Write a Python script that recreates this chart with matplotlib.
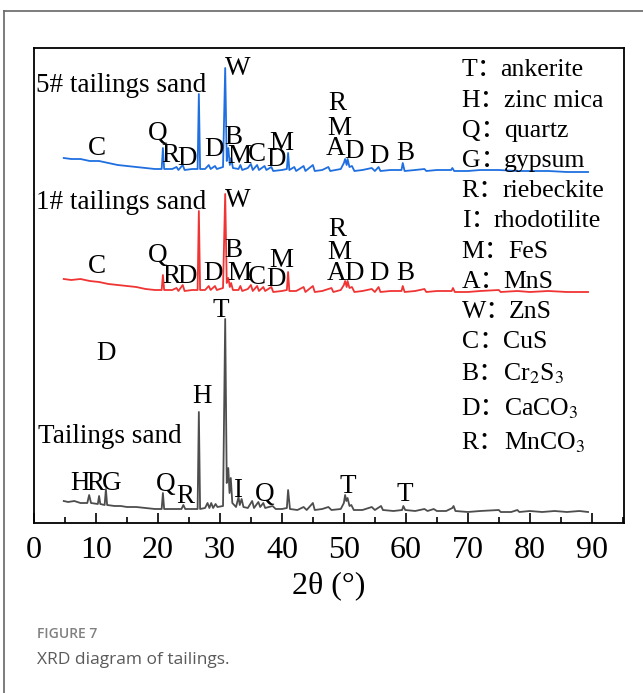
import matplotlib
matplotlib.use("Agg")
import matplotlib.pyplot as plt
from matplotlib.lines import Line2D
from matplotlib.ticker import MultipleLocator

plt.rcParams['mathtext.fontset'] = 'stix'
SERIF = ['Liberation Serif', 'Noto Sans CJK SC']

# XRD patterns, (2theta in degrees, intensity in a.u. incl. stacking offset)
tailings = [(4.8, 22), (5.5, 21), (6.5, 22), (7.5, 20), (8.6, 20), (8.9, 28), (9.2, 20), (10.3, 19),
            (10.5, 27), (10.7, 19), (11.4, 18), (11.6, 34), (11.8, 18), (13, 17), (14, 17), (15, 16),
            (16.5, 16), (18, 15), (19.5, 14), (20.6, 14), (20.8, 30), (21.0, 14), (22.5, 14), (23.8, 14),
            (24.1, 18), (24.4, 14), (25.5, 14), (26.4, 14), (26.6, 111), (26.8, 14), (27.6, 15), (28.0, 20),
            (28.3, 15), (28.6, 20), (28.9, 15), (29.3, 19), (29.6, 16), (30.5, 17), (30.85, 204), (31.1, 40),
            (31.35, 55), (31.55, 30), (31.75, 45), (32.0, 20), (32.6, 16), (33.0, 26), (33.2, 18), (33.5, 24),
            (33.8, 16), (34.5, 15), (35.2, 22), (35.5, 15), (36.2, 21), (36.5, 16), (37.0, 20), (37.3, 15),
            (38.5, 17), (39, 14), (40.0, 14), (40.8, 15), (41.0, 33), (41.3, 14), (42.5, 13), (43.5, 16),
            (44, 13), (45.0, 20), (45.3, 13), (46.5, 14), (47.5, 16), (48, 13), (49.5, 14), (50.0, 20),
            (50.2, 28), (50.4, 22), (50.6, 25), (50.9, 17), (51.2, 18), (51.6, 13), (53, 13), (54.5, 16),
            (55, 13), (56.0, 17), (56.3, 13), (58, 12), (59.4, 13), (59.6, 17), (59.9, 13), (61.5, 12),
            (63.0, 14), (63.5, 12), (64.5, 14), (65, 12), (66.5, 12), (67.5, 15), (67.7, 17), (68, 12),
            (70, 11), (72, 12), (75, 13), (75.3, 11), (77, 11), (78, 13), (78.3, 11), (80, 12), (82, 11),
            (84, 12), (86, 11), (88, 12), (89.4, 11)]

sand1 = [(4.8, 244), (6, 243), (7.5, 244), (9, 242), (10.5, 241), (12, 239), (13.5, 238), (15, 237),
         (16.5, 236), (18, 234), (19.5, 233), (20.6, 233), (20.8, 248), (21.0, 233), (22.3, 233), (23.0, 235),
         (23.3, 232), (24.0, 238), (24.3, 232), (25.5, 233), (26.4, 233), (26.6, 312), (26.8, 233), (27.6, 233),
         (28.2, 237), (28.5, 233), (29.2, 237), (29.5, 233), (30.5, 235), (30.85, 329), (31.1, 240), (31.35, 245),
         (31.6, 236), (31.8, 240), (32.1, 233), (33.0, 233), (33.3, 237), (33.6, 232), (34.5, 234), (35.0, 238),
         (35.3, 232), (36.0, 237), (36.3, 232), (37.0, 236), (37.3, 232), (38.3, 236), (38.6, 231), (40.0, 232),
         (40.8, 233), (41.0, 251), (41.2, 232), (42.3, 232), (43.5, 236), (43.8, 231), (45.0, 237), (45.3, 231),
         (46.5, 232), (48.0, 235), (48.3, 231), (49.5, 233), (50.0, 238), (50.2, 242), (50.45, 236), (50.6, 242),
         (50.9, 235), (51.3, 236), (51.7, 231), (53, 232), (54.5, 234), (55.0, 231), (55.6, 236), (55.9, 231),
         (57.5, 232), (59.3, 232), (59.5, 237), (59.8, 231), (61.5, 232), (63.0, 234), (63.3, 231), (65, 232),
         (67.4, 232), (67.6, 235), (67.9, 231), (70, 231), (72, 232), (75, 233), (75.3, 231), (78, 232),
         (80, 231), (83, 232), (86, 231), (89.4, 231)]

sand5 = [(4.8, 365), (6, 364), (7.5, 364), (9, 362), (10.5, 362), (12, 360), (13.5, 358), (15, 357),
         (16.5, 356), (18, 355), (19.5, 354), (20.6, 354), (20.8, 375), (21.0, 354), (22.3, 354), (23.0, 356),
         (23.3, 353), (24.0, 358), (24.3, 353), (25.5, 354), (26.4, 354), (26.6, 429), (26.8, 354), (27.6, 354),
         (28.2, 358), (28.5, 354), (29.2, 357), (29.5, 354), (30.5, 356), (30.85, 455), (31.1, 362), (31.35, 375),
         (31.6, 358), (31.8, 365), (32.1, 355), (33.0, 354), (33.3, 358), (33.6, 353), (34.5, 355), (35.0, 359),
         (35.3, 353), (36.0, 358), (36.3, 353), (37.2, 357), (37.5, 353), (38.3, 356), (38.6, 352), (40.0, 353),
         (40.8, 354), (41.0, 370), (41.2, 353), (42.0, 356), (42.3, 352), (43.5, 357), (43.8, 352), (45.0, 358),
         (45.3, 352), (46.5, 353), (47.5, 356), (47.8, 352), (49.5, 354), (50.0, 360), (50.2, 364), (50.45, 358),
         (50.6, 364), (50.9, 356), (51.3, 357), (51.7, 352), (53, 353), (54.5, 355), (55.0, 352), (55.6, 356),
         (55.9, 352), (57.5, 353), (59.3, 353), (59.5, 360), (59.8, 352), (61.5, 353), (63.0, 354), (63.3, 352),
         (65, 353), (67.3, 353), (67.5, 355), (67.8, 352), (70, 352), (72, 353), (75, 353), (78, 352),
         (80, 352), (83, 352), (86, 351), (89.4, 351)]

# phase letters over the peaks: (letter, 2theta, baseline height)
marks5 = [('C', 10.16, 368), ('Q', 20.0, 383), ('R', 21.94, 361), ('D', 24.68, 358), ('D', 29.03, 367),
          ('B', 32.1, 379), ('M', 33.2, 360), ('C', 35.97, 362), ('D', 39.03, 357), ('M', 39.84, 373),
          ('R', 48.87, 413), ('M', 49.19, 388), ('A', 48.71, 368), ('D', 51.61, 365), ('D', 55.65, 360),
          ('B', 59.84, 363), ('W', 32.9, 448)]
marks1 = [('C', 10.16, 250), ('Q', 20.0, 261), ('R', 22.1, 240), ('D', 24.68, 240), ('D', 28.87, 243),
          ('B', 32.1, 266), ('M', 33.2, 243), ('C', 35.97, 239), ('D', 39.03, 237), ('M', 39.84, 256),
          ('R', 48.87, 287), ('M', 49.19, 264), ('A', 48.87, 243), ('D', 51.61, 243), ('D', 55.65, 243),
          ('B', 59.84, 243), ('W', 32.9, 316)]
marks0 = [('T', 30.16, 206), ('D', 11.61, 163), ('H', 27.1, 120), ('H', 7.42, 33), ('R', 9.84, 33),
          ('G', 12.58, 33), ('Q', 21.29, 32), ('R', 24.35, 20), ('I', 32.9, 26), ('Q', 37.26, 22),
          ('T', 50.65, 30), ('T', 59.84, 22)]

phase_keys = ['T', 'H', 'Q', 'G', 'R', 'I', 'M', 'A', 'W', 'C', 'B', 'D', 'R']
phase_names = ['ankerite', 'zinc mica', 'quartz', 'gypsum', 'riebeckite', 'rhodotilite', 'FeS', 'MnS',
               'ZnS', 'CuS', 'Cr$_2$S$_3$', 'CaCO$_3$', 'MnCO$_3$']
phase_y = [447, 416, 386, 356, 326, 296, 265, 235, 205, 175, 143, 108, 74]
name_x = [75.2, 75.8, 75.8, 75.8, 75.6, 74.2, 76.5, 75.8, 76.6, 75.6, 75.6, 75.8, 75.8]

fig = plt.figure(figsize=(6.43, 6.93), dpi=100)
ax = fig.add_axes([34 / 643, 1 - 523 / 693, 590 / 643, 475 / 693])

for data, col in [(tailings, '#4d4d4d'), (sand1, '#f03434'), (sand5, '#1f6fe0')]:
    xs = [p[0] for p in data]
    ys = [p[1] for p in data]
    ax.plot(xs, ys, color=col, lw=1.3, solid_joinstyle='round')

for marks in (marks5, marks1, marks0):
    for lab, x, y in marks:
        ax.text(x, y, lab, ha='center', va='baseline', fontsize=19.5, family=SERIF)

ax.text(0.3, 431, '5# tailings sand', ha='left', va='baseline', fontsize=19.5, family=SERIF)
ax.text(0.3, 314, '1# tailings sand', ha='left', va='baseline', fontsize=19.5, family=SERIF)
ax.text(0.65, 80, 'Tailings sand', ha='left', va='baseline', fontsize=19.5, family=SERIF)

# phase legend: key letter with full-width colon, then the name
for key, name, y, nx in zip(phase_keys, phase_names, phase_y, name_x):
    ax.text(69.0, y, key + '\uff1a', ha='left', va='baseline', fontsize=18.5, family=SERIF)
    ax.text(nx, y, name, ha='left', va='baseline', fontsize=18.5, family=SERIF)

ax.set_xlim(0, 95.2)
ax.set_ylim(0, 475)
ax.set_yticks([])
ax.xaxis.set_major_locator(MultipleLocator(10))
ax.xaxis.set_minor_locator(MultipleLocator(5))
ax.tick_params(axis='x', which='major', direction='in', length=7, width=1.2, pad=9, labelsize=23)
ax.tick_params(axis='x', which='minor', direction='in', length=4, width=1.2)
for lab in ax.get_xticklabels():
    lab.set_family(SERIF)
for s in ax.spines.values():
    s.set_linewidth(1.3)
ax.set_xlabel('2\u03b8 (\u00b0)', fontsize=23, family=SERIF, labelpad=5)

# panel frame and caption
fig.add_artist(Line2D([4 / 643, 1], [1 - 11 / 693, 1 - 11 / 693], color='#666666', lw=1.2))
fig.add_artist(Line2D([4 / 643, 4 / 643], [0, 1 - 11 / 693], color='#666666', lw=1.2))
fig.text(37 / 643, 1 - 638 / 693, 'FIGURE 7', fontsize=10, family='Open Sans', color='#808080',
         fontweight='semibold', va='baseline')
fig.text(37 / 643, 1 - 664 / 693, 'XRD diagram of tailings.', fontsize=12.5, family='Open Sans',
         color='#5a5a5a', va='baseline')

fig.savefig('out.png', dpi=100)
